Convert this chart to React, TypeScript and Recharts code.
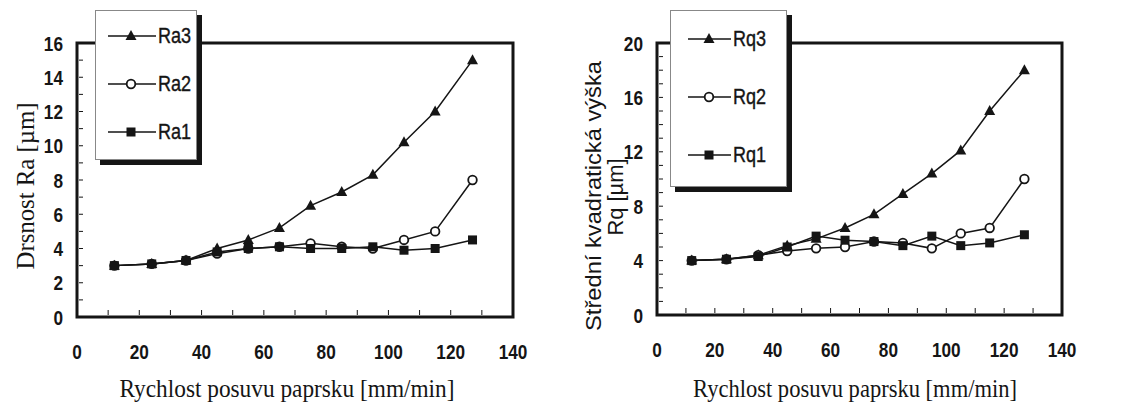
import { LineChart, Line, XAxis, YAxis, ReferenceArea, Legend } from "recharts";

const speed = [12, 24, 35, 45, 55, 65, 75, 85, 95, 105, 115, 127];

const ra3 = [3.0, 3.1, 3.3, 4.0, 4.5, 5.2, 6.5, 7.3, 8.3, 10.2, 12.0, 15.0];
const ra2 = [3.0, 3.1, 3.3, 3.7, 4.0, 4.1, 4.3, 4.1, 4.0, 4.5, 5.0, 8.0];
const ra1 = [3.0, 3.1, 3.3, 3.8, 4.0, 4.1, 4.0, 4.0, 4.1, 3.9, 4.0, 4.5];

const rq3 = [4.0, 4.1, 4.4, 5.1, 5.6, 6.4, 7.4, 8.9, 10.4, 12.1, 15.0, 18.0];
const rq2 = [4.0, 4.1, 4.4, 4.7, 4.9, 5.0, 5.4, 5.3, 4.9, 6.0, 6.4, 10.0];
const rq1 = [4.0, 4.1, 4.3, 5.0, 5.8, 5.5, 5.4, 5.1, 5.8, 5.1, 5.3, 5.9];

const xTicks = [0, 10, 20, 30, 40, 50, 60, 70, 80, 90, 100, 110, 120, 130, 140];
const raTicks = [0, 1, 2, 3, 4, 5, 6, 7, 8, 9, 10, 11, 12, 13, 14, 15, 16];
const rqTicks = [0, 1, 2, 3, 4, 5, 6, 7, 8, 9, 10, 11, 12, 13, 14, 15, 16, 17, 18, 19, 20];

const raData = speed.map((x, i) => ({ x, ra1: ra1[i], ra2: ra2[i], ra3: ra3[i] }));
const rqData = speed.map((x, i) => ({ x, rq1: rq1[i], rq2: rq2[i], rq3: rq3[i] }));

const INK = "#151515";
const SANS = "'Liberation Sans', Arial, sans-serif";
const SERIF = "'Liberation Serif', 'Times New Roman', serif";
const NARROW = 0.82; // squeeze Arial into an Arial Narrow look

type Shape = "triangle" | "circle" | "square";

function Marker({ cx, cy, shape }: { cx?: number; cy?: number; shape: Shape }) {
  if (cx == null || cy == null) return null;
  if (shape === "triangle")
    return <polygon points={`${cx},${cy - 6} ${cx + 5.5},${cy + 4} ${cx - 5.5},${cy + 4}`} fill={INK} />;
  if (shape === "circle")
    return <circle cx={cx} cy={cy} r={4.3} fill="#fff" stroke={INK} strokeWidth={1.8} />;
  return <rect x={cx - 4.5} y={cy - 4.5} width={9} height={9} fill={INK} />;
}

function XTick({ x, y, payload }: any) {
  const v = payload.value;
  return (
    <g>
      <line x1={x} x2={x} y1={y - 2} y2={y - 7} stroke={INK} strokeWidth={1} />
      {v % 20 === 0 && (
        <text
          transform={`translate(${x},${y + 42}) scale(${NARROW},1)`}
          textAnchor="middle"
          fontFamily={SANS}
          fontWeight="bold"
          fontSize={21}
          fill={INK}
        >
          {v}
        </text>
      )}
    </g>
  );
}

function makeYTick(step: number) {
  return ({ x, y, payload }: any) => {
    const v = payload.value;
    return (
      <g>
        <line x1={x + 2} x2={x + 6} y1={y} y2={y} stroke={INK} strokeWidth={1} />
        {v % step === 0 && (
          <text
            transform={`translate(${x - 14},${y + 7.5}) scale(${NARROW},1)`}
            textAnchor="end"
            fontFamily={SANS}
            fontWeight="bold"
            fontSize={21}
            fill={INK}
          >
            {v}
          </text>
        )}
      </g>
    );
  };
}

function XTitle({ cx, len }: any) {
  return (
    <text
      x={cx}
      y={397}
      textAnchor="middle"
      fontFamily={SERIF}
      fontSize={26}
      fill={INK}
      textLength={len}
      lengthAdjust="spacingAndGlyphs"
    >
      Rychlost posuvu paprsku [mm/min]
    </text>
  );
}

function RaTitle() {
  return (
    <text
      transform="translate(25,186) rotate(-90)"
      dy="0.35em"
      textAnchor="middle"
      fontFamily={SERIF}
      fontSize={25}
      fill={INK}
      textLength={167}
      lengthAdjust="spacingAndGlyphs"
    >
      Drsnost Ra [µm]
    </text>
  );
}

function RqTitle() {
  return (
    <g>
      <text
        transform="translate(33,196) rotate(-90)"
        dy="0.35em"
        textAnchor="middle"
        fontFamily={SANS}
        fontSize={22}
        fill={INK}
        textLength={270}
        lengthAdjust="spacingAndGlyphs"
      >
        Střední kvadratická výška
      </text>
      <text
        transform="translate(55,197) rotate(-90)"
        dy="0.35em"
        textAnchor="middle"
        fontFamily={SANS}
        fontSize={22}
        fill={INK}
        textLength={77}
        lengthAdjust="spacingAndGlyphs"
      >
        Rq [µm]
      </text>
    </g>
  );
}

type Entry = { label: string; shape: Shape };

function makeLegend(entries: Entry[], gap: number, first: number, lineFrom: number, lineTo: number, mark: number) {
  return () => (
    <div
      style={{
        position: "relative",
        width: "100%",
        height: "100%",
        boxSizing: "border-box",
        background: "#fff",
        border: "1px solid #888",
        boxShadow: `5px 5px 0 ${INK}`,
      }}
    >
      {entries.map((e, i) => (
        <div key={e.label} style={{ position: "absolute", left: 0, top: first + i * gap - 12, height: 24, width: "100%" }}>
          <svg width={lineTo + 2} height={24} style={{ position: "absolute", left: 0, top: 0 }}>
            <line x1={lineFrom} x2={lineTo} y1={12} y2={12} stroke={INK} strokeWidth={1.5} />
            <Marker cx={mark} cy={12} shape={e.shape} />
          </svg>
          <span
            style={{
              position: "absolute",
              left: lineTo + 2,
              top: 0,
              lineHeight: "24px",
              fontFamily: SANS,
              fontSize: 22,
              color: INK,
              WebkitTextStroke: "0.4px #151515",
              transform: `scaleX(${NARROW})`,
              transformOrigin: "left center",
              whiteSpace: "nowrap",
            }}
          >
            {e.label}
          </span>
        </div>
      ))}
    </div>
  );
}

const raEntries: Entry[] = [
  { label: "Ra3", shape: "triangle" },
  { label: "Ra2", shape: "circle" },
  { label: "Ra1", shape: "square" },
];
const rqEntries: Entry[] = [
  { label: "Rq3", shape: "triangle" },
  { label: "Rq2", shape: "circle" },
  { label: "Rq1", shape: "square" },
];

export default function App() {
  return (
    <div style={{ position: "absolute", left: 0, top: 0, width: 1136, height: 407, background: "#fff" }}>
      <div style={{ position: "absolute", left: 0, top: 0 }}>
        <LineChart width={560} height={407} data={raData} margin={{ top: 43, right: 47, bottom: 0, left: 0 }}>
          <XAxis
            dataKey="x"
            type="number"
            domain={[0, 140]}
            ticks={xTicks}
            interval={0}
            axisLine={false}
            tickLine={false}
            tickSize={0}
            tickMargin={0}
            height={90}
            tick={<XTick />}
            label={<XTitle cx={287} len={335} />}
          />
          <YAxis
            type="number"
            domain={[0, 16]}
            ticks={raTicks}
            interval={0}
            axisLine={false}
            tickLine={false}
            tickSize={0}
            tickMargin={0}
            width={77}
            tick={makeYTick(2)}
            label={<RaTitle />}
          />
          <ReferenceArea x1={0} x2={140} y1={0} y2={16} fill="none" stroke={INK} strokeWidth={3} />
          <Line dataKey="ra3" stroke={INK} strokeWidth={1.5} dot={<Marker shape="triangle" />} isAnimationActive={false} />
          <Line dataKey="ra2" stroke={INK} strokeWidth={1.5} dot={<Marker shape="circle" />} isAnimationActive={false} />
          <Line dataKey="ra1" stroke={INK} strokeWidth={1.5} dot={<Marker shape="square" />} isAnimationActive={false} />
          <Legend
            layout="vertical"
            align="center"
            verticalAlign="middle"
            content={makeLegend(raEntries, 48, 25, 12, 60, 35)}
            wrapperStyle={{ left: 95, top: 10, width: 102, height: 150 }}
          />
        </LineChart>
      </div>
      <div style={{ position: "absolute", left: 560, top: 0 }}>
        <LineChart width={576} height={407} data={rqData} margin={{ top: 43, right: 74, bottom: 0, left: 0 }}>
          <XAxis
            dataKey="x"
            type="number"
            domain={[0, 140]}
            ticks={xTicks}
            interval={0}
            axisLine={false}
            tickLine={false}
            tickSize={0}
            tickMargin={0}
            height={92}
            tick={<XTick />}
            label={<XTitle cx={295} len={324} />}
          />
          <YAxis
            type="number"
            domain={[0, 20]}
            ticks={rqTicks}
            interval={0}
            axisLine={false}
            tickLine={false}
            tickSize={0}
            tickMargin={0}
            width={97}
            tick={makeYTick(4)}
            label={<RqTitle />}
          />
          <ReferenceArea x1={0} x2={140} y1={0} y2={20} fill="none" stroke={INK} strokeWidth={3} />
          <Line dataKey="rq3" stroke={INK} strokeWidth={1.5} dot={<Marker shape="triangle" />} isAnimationActive={false} />
          <Line dataKey="rq2" stroke={INK} strokeWidth={1.5} dot={<Marker shape="circle" />} isAnimationActive={false} />
          <Line dataKey="rq1" stroke={INK} strokeWidth={1.5} dot={<Marker shape="square" />} isAnimationActive={false} />
          <Legend
            layout="vertical"
            align="center"
            verticalAlign="middle"
            content={makeLegend(rqEntries, 58, 28, 17, 60, 38)}
            wrapperStyle={{ left: 110, top: 10, width: 117, height: 177 }}
          />
        </LineChart>
      </div>
    </div>
  );
}
